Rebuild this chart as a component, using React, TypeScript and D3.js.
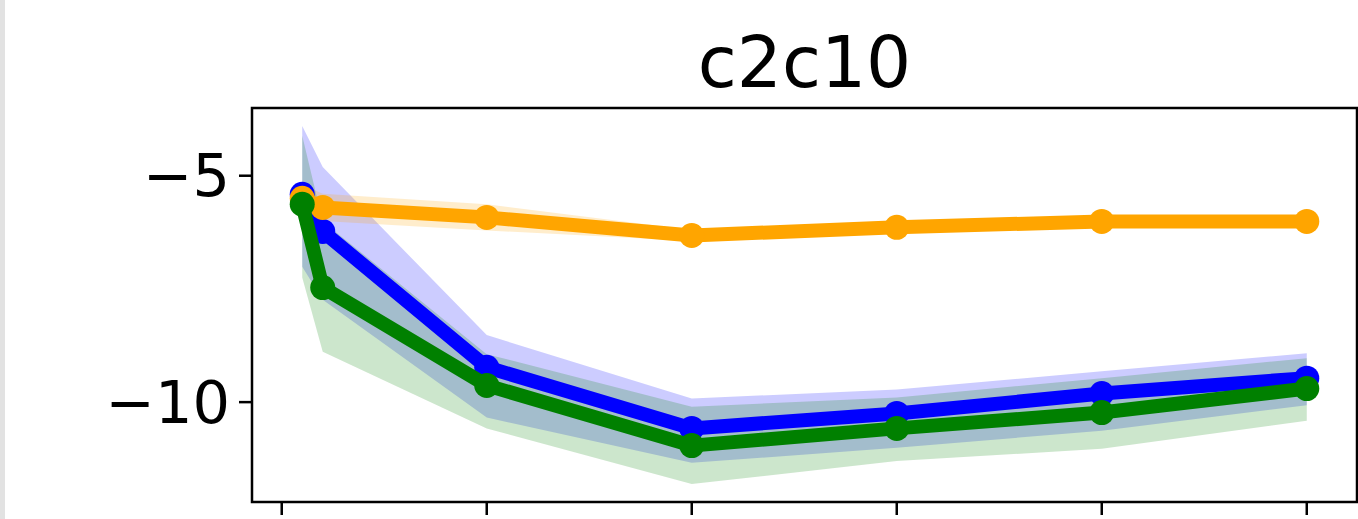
import React from "react";
import * as d3 from "d3";

const title = "c2c10";
const xValues = [1, 2, 10, 20, 30, 40, 50];
const xTicks = [0, 10, 20, 30, 40, 50];
const yTicks = [-5, -10];

const blueMean = [-5.41, -6.23, -9.23, -10.58, -10.25, -9.81, -9.47];
const blueUpper = [-3.9, -4.81, -8.52, -9.92, -9.72, -9.32, -8.92];
const blueLower = [-7.01, -7.74, -10.34, -11.34, -11.01, -10.63, -10.07];

const orangeMean = [-5.5, -5.7, -5.92, -6.32, -6.14, -6.01, -6.01];
const orangeUpper = [-5.2, -5.4, -5.63, -6.2, -6.02, -5.89, -5.89];
const orangeLower = [-5.8, -6.0, -6.21, -6.44, -6.26, -6.13, -6.13];

const greenMean = [-5.63, -7.47, -9.63, -10.96, -10.58, -10.23, -9.7];
const greenUpper = [-4.12, -6.01, -8.94, -10.1, -9.9, -9.47, -9.03];
const greenLower = [-7.25, -8.89, -10.58, -11.81, -11.3, -11.03, -10.41];

const series = [
  { name: "blue", color: "#0000ff", mean: blueMean, upper: blueUpper, lower: blueLower },
  { name: "orange", color: "#ffa500", mean: orangeMean, upper: orangeUpper, lower: orangeLower },
  { name: "green", color: "#008000", mean: greenMean, upper: greenUpper, lower: greenLower },
];

const W = 1358;
const H = 519;
const plot = { left: 252, right: 1357, top: 108, bottom: 502 };

export default function App() {
  const xMin = d3.min(xValues)!;
  const xMax = d3.max(xValues)!;
  const xPad = (xMax - xMin) * 0.05;
  const allY = [...blueUpper, ...blueLower, ...orangeUpper, ...orangeLower, ...greenUpper, ...greenLower];
  const yMin = d3.min(allY)!;
  const yMax = d3.max(allY)!;
  const yPad = (yMax - yMin) * 0.05;

  const x = d3.scaleLinear().domain([xMin - xPad, xMax + xPad]).range([plot.left, plot.right]);
  const y = d3.scaleLinear().domain([yMin - yPad, yMax + yPad]).range([plot.bottom, plot.top]);

  const line = d3
    .line<number>()
    .x((_, i) => x(xValues[i]))
    .y((d) => y(d));

  const area = (upper: number[], lower: number[]) =>
    d3
      .area<number>()
      .x((_, i) => x(xValues[i]))
      .y0((_, i) => y(lower[i]))
      .y1((_, i) => y(upper[i]))(upper) || "";

  const font = "'DejaVu Sans', sans-serif";

  return (
    <svg
      width={W}
      height={H}
      style={{ position: "absolute", left: 0, top: 0, background: "#ffffff" }}
    >
      <rect x={0} y={0} width={5} height={H} fill="#e2e2e2" />
      <defs>
        <clipPath id="plotclip">
          <rect x={plot.left} y={plot.top} width={plot.right - plot.left} height={plot.bottom - plot.top} />
        </clipPath>
      </defs>
      <g clipPath="url(#plotclip)">
        {series.map((s) => (
          <path key={s.name + "-band"} d={area(s.upper, s.lower)} fill={s.color} fillOpacity={0.2} stroke="none" />
        ))}
        {series.map((s) => (
          <g key={s.name}>
            <path
              d={line(s.mean) || ""}
              fill="none"
              stroke={s.color}
              strokeWidth={14}
              strokeLinejoin="round"
              strokeLinecap="butt"
            />
            {s.mean.map((v, i) => (
              <circle key={i} cx={x(xValues[i])} cy={y(v)} r={12.5} fill={s.color} />
            ))}
          </g>
        ))}
      </g>
      <rect
        x={plot.left}
        y={plot.top}
        width={plot.right - plot.left}
        height={plot.bottom - plot.top}
        fill="none"
        stroke="#000"
        strokeWidth={2.5}
      />
      {xTicks.map((t) => (
        <line key={"xt" + t} x1={x(t)} x2={x(t)} y1={plot.bottom} y2={plot.bottom + 13} stroke="#000" strokeWidth={2.5} />
      ))}
      {yTicks.map((t) => (
        <g key={"yt" + t}>
          <line x1={plot.left - 13} x2={plot.left} y1={y(t)} y2={y(t)} stroke="#000" strokeWidth={2.5} />
          <text
            x={plot.left - 22}
            y={y(t)}
            textAnchor="end"
            dominantBaseline="central"
            fontFamily={font}
            fontSize={59}
            fill="#000"
          >
            {t < 0 ? "\u2212" + Math.abs(t) : String(t)}
          </text>
        </g>
      ))}
      <text
        x={(plot.left + plot.right) / 2}
        y={87}
        textAnchor="middle"
        fontFamily={font}
        fontSize={71}
        fill="#000"
      >
        {title}
      </text>
    </svg>
  );
}
